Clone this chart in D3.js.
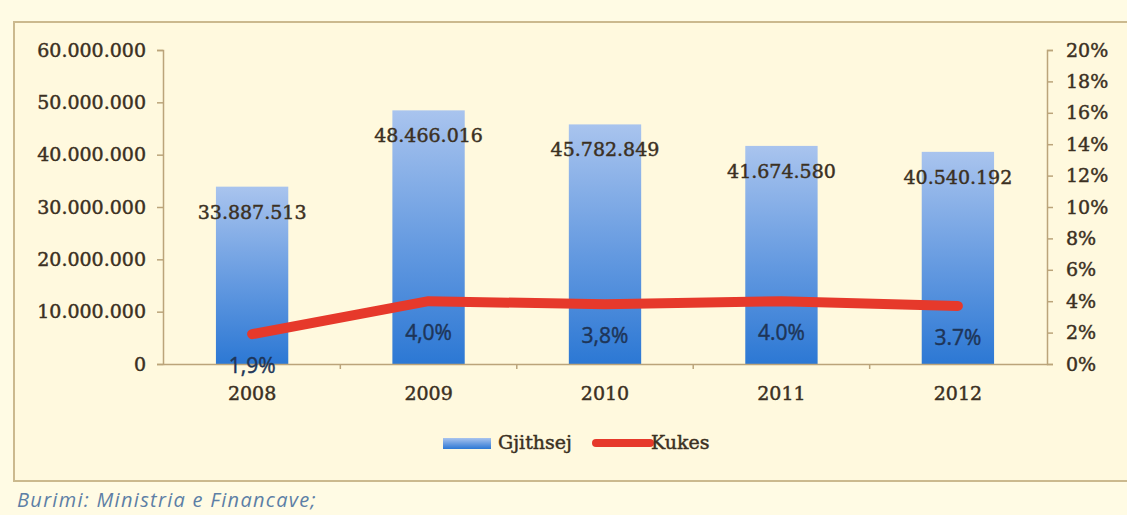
<!DOCTYPE html>
<html>
<head>
<meta charset="utf-8">
<script src="https://cdn.jsdelivr.net/npm/d3@7"></script>
<style>
  html, body { margin: 0; padding: 0; background: #fffbe4; }
  svg { display: block; }
</style>
</head>
<body>
<svg width="1127" height="515"></svg>
<script>
const years = ['2008', '2009', '2010', '2011', '2012'];
const totals = [33887513, 48466016, 45782849, 41674580, 40540192];
const kukesShare = [0.019, 0.040, 0.038, 0.040, 0.037];
const shareLabels = ['1,9%', '4,0%', '3,8%', '4.0%', '3.7%'];
const leftTicks = [0, 10e6, 20e6, 30e6, 40e6, 50e6, 60e6];
const rightTicks = d3.range(0, 0.201, 0.02);

const svg = d3.select('svg');
const serif = '"DejaVu Serif", "Liberation Serif", serif';
const sans = '"Open Sans", "Noto Sans", sans-serif';
const textColor = '#3b3022';
const axisColor = '#bba47a';

const locale = d3.formatLocale({decimal: ',', thousands: '.', grouping: [3], currency: ['', '']});
const fmt = locale.format(',d');

// slightly heavier text, the source picture is a blurry screenshot
function heavy(sel, color) {
    sel.attr('fill', color)
        .attr('stroke', color)
        .attr('stroke-width', 0.45);
}

// background + frame
svg.append('rect').attr('width', 1127).attr('height', 515).attr('fill', '#fffbe4');
svg.append('rect')
    .attr('x', 14).attr('y', 22).attr('width', 1120).attr('height', 459)
    .attr('fill', '#fff9de')
    .attr('stroke', '#cbb98e').attr('stroke-width', 2);

const defs = svg.append('defs');
const grad = defs.append('linearGradient')
    .attr('id', 'barGrad')
    .attr('x1', 0).attr('y1', 0).attr('x2', 0).attr('y2', 1);
grad.append('stop').attr('offset', '0%').attr('stop-color', '#a9c4ee');
grad.append('stop').attr('offset', '55%').attr('stop-color', '#6399e0');
grad.append('stop').attr('offset', '100%').attr('stop-color', '#2c78d4');

const x = d3.scaleBand()
    .domain(years)
    .range([163, 1047])
    .paddingInner(0.59)
    .paddingOuter(0.3);

const yL = d3.scaleLinear().domain([0, 60e6]).range([364, 50]);
const yR = d3.scaleLinear().domain([0, 0.20]).range([364, 50]);

// left axis
const gL = svg.append('g')
    .attr('transform', 'translate(163,0)')
    .call(d3.axisLeft(yL).tickValues(leftTicks).tickFormat(fmt).tickSize(6).tickPadding(11));
// right axis
const gR = svg.append('g')
    .attr('transform', 'translate(1047,0)')
    .call(d3.axisRight(yR).tickValues(rightTicks).tickFormat(d3.format('.0%')).tickSize(6).tickPadding(13));

[gL, gR].forEach(g => {
    g.select('.domain').attr('stroke', axisColor).attr('stroke-width', 1.5);
    g.selectAll('.tick line').attr('stroke', axisColor).attr('stroke-width', 1.5);
    g.selectAll('.tick text')
        .call(heavy, textColor)
        .style('font-family', serif)
        .style('font-size', '19px');
});

// bars
svg.append('g').selectAll('rect')
    .data(years)
    .join('rect')
    .attr('x', d => x(d))
    .attr('y', (d, i) => yL(totals[i]))
    .attr('width', x.bandwidth())
    .attr('height', (d, i) => yL(0) - yL(totals[i]))
    .attr('fill', 'url(#barGrad)');

// bottom axis
const gB = svg.append('g')
    .attr('transform', 'translate(0,364)')
    .call(d3.axisBottom(x).tickSize(0).tickPadding(23));
gB.select('.domain').attr('stroke', axisColor).attr('stroke-width', 1.5);
gB.selectAll('.tick text')
    .call(heavy, textColor)
    .style('font-family', serif)
    .style('font-size', '19px');
// small category separators
svg.append('g').selectAll('line')
    .data(years.slice(1))
    .join('line')
    .attr('x1', d => x(d) - x.step() * x.paddingInner() / 2)
    .attr('x2', d => x(d) - x.step() * x.paddingInner() / 2)
    .attr('y1', 364).attr('y2', 369)
    .attr('stroke', axisColor).attr('stroke-width', 1.5);

// value labels
svg.append('g').selectAll('text')
    .data(years)
    .join('text')
    .attr('x', d => x(d) + x.bandwidth() / 2)
    .attr('y', (d, i) => yL(totals[i]) + 27)
    .attr('text-anchor', 'middle')
    .attr('dominant-baseline', 'middle')
    .call(heavy, textColor)
    .style('font-family', serif)
    .style('font-size', '19px')
    .text((d, i) => fmt(totals[i]));

// line
const line = d3.line()
    .x((d, i) => x(years[i]) + x.bandwidth() / 2)
    .y(d => yR(d));
svg.append('path')
    .datum(kukesShare)
    .attr('d', line)
    .attr('fill', 'none')
    .attr('stroke', '#e6392b')
    .attr('stroke-width', 10)
    .attr('stroke-linecap', 'round')
    .attr('stroke-linejoin', 'round');

// share labels
svg.append('g').selectAll('text')
    .data(years)
    .join('text')
    .attr('x', d => x(d) + x.bandwidth() / 2)
    .attr('y', (d, i) => yR(kukesShare[i]) + 33)
    .attr('text-anchor', 'middle')
    .attr('dominant-baseline', 'middle')
    .call(heavy, '#1e3558')
    .style('font-family', sans)
    .style('font-size', '21px')
    .text((d, i) => shareLabels[i]);

// legend
const legend = svg.append('g');
legend.append('rect')
    .attr('x', 443).attr('y', 438).attr('width', 48).attr('height', 11)
    .attr('fill', 'url(#barGrad)');
legend.append('text')
    .attr('x', 498).attr('y', 444)
    .attr('dominant-baseline', 'middle')
    .call(heavy, textColor)
    .style('font-family', serif)
    .style('font-size', '19px')
    .text('Gjithsej');
legend.append('line')
    .attr('x1', 596).attr('x2', 650).attr('y1', 443).attr('y2', 443)
    .attr('stroke', '#e6392b').attr('stroke-width', 8).attr('stroke-linecap', 'round');
legend.append('text')
    .attr('x', 651).attr('y', 444)
    .attr('dominant-baseline', 'middle')
    .call(heavy, textColor)
    .style('font-family', serif)
    .style('font-size', '19px')
    .text('Kukes');

// source
svg.append('text')
    .attr('x', 17).attr('y', 507)
    .attr('fill', '#5d7fa6')
    .style('font-family', sans)
    .style('font-style', 'italic')
    .style('font-size', '20px')
    .style('letter-spacing', '1.3px')
    .text('Burimi: Ministria e Financave;');
</script>
</body>
</html>
